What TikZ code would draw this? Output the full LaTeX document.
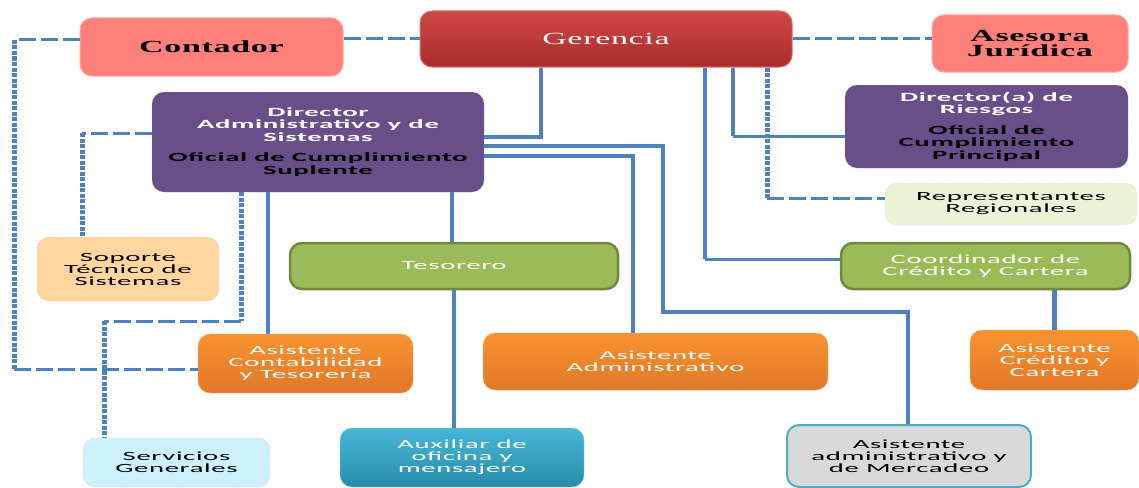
\documentclass[tikz,border=0pt]{standalone}
\usepackage{fontspec}
\setmainfont{Carlito}
\newfontfamily\boxfont[FakeStretch=2.3,LetterSpace=5]{Carlito}
\newfontfamily\headfont[FakeStretch=2.0,LetterSpace=4]{Liberation Serif}
\usetikzlibrary{positioning}

\definecolor{linea}{RGB}{79,129,189}
\definecolor{salmon}{RGB}{255,128,122}
\definecolor{rojo}{RGB}{200,52,50}
\definecolor{morado}{RGB}{104,79,138}
\definecolor{verde}{RGB}{155,187,89}
\definecolor{verdeosc}{RGB}{113,137,63}
\definecolor{naranja}{RGB}{248,146,48}
\definecolor{naranjaosc}{RGB}{226,120,40}
\definecolor{verdeclaro}{RGB}{235,244,214}
\definecolor{durazno}{RGB}{255,213,160}
\definecolor{celeste}{RGB}{204,241,250}
\definecolor{azul}{RGB}{51,175,211}
\definecolor{gris}{RGB}{217,217,217}
\definecolor{bordeazul}{RGB}{75,172,198}

\tikzset{
  caja/.style={rounded corners=12pt, align=center, inner sep=2pt,
    font=\boxfont\fontsize{12.5}{12}\selectfont},
  cajarosa/.style={caja, fill=salmon, draw=salmon!70!white, line width=1pt,
    font=\headfont\bfseries\fontsize{17}{15}\selectfont},
  cajaroja/.style={caja, top color=rojo!90!white, bottom color=rojo!85!black,
    draw=rojo!70!white, line width=1pt, text=white,
    font=\headfont\fontsize{17}{16}\selectfont},
  cajamorada/.style={caja, fill=morado, draw=morado!60!white, densely dotted,
    font=\boxfont\bfseries\fontsize{12.5}{12.5}\selectfont},
  cajaverde/.style={caja, fill=verde, draw=verdeosc, line width=2.5pt, text=white},
  cajanaranja/.style={caja, top color=naranja, bottom color=naranjaosc,
    draw=naranja!60!white, text=white},
  cajaclara/.style={caja, draw=black!25, densely dotted},
  mainline/.style={linea, line width=4.5pt},
  thinline/.style={linea, line width=3pt},
  dashline/.style={linea, line width=3pt, dash pattern=on 17pt off 5pt},
  dotline/.style={linea, line width=5pt, dash pattern=on 4pt off 1.5pt}
}

\begin{document}
\begin{tikzpicture}[x=1pt,y=-1pt]
\useasboundingbox (0,0) rectangle (1139,487);

% cajas
\node[cajarosa, minimum width=263pt, minimum height=58pt] (cont) at (211.5,47) {Contador};
\node[cajaroja, minimum width=372pt, minimum height=56pt] (ger) at (606,39) {Gerencia};
\node[cajarosa, minimum width=196pt, minimum height=57pt] (ases) at (1030,43.5) {Asesora\\Jurídica};

\node[cajamorada, minimum width=332pt, minimum height=100pt] (dadm) at (318,142)
  {\textcolor{white}{Director}\\\textcolor{white}{Administrativo y de}\\\textcolor{white}{Sistemas}\\[8pt]
   Oficial de Cumplimiento\\Suplente};
\node[cajamorada, minimum width=283pt, minimum height=83pt] (drie) at (986.5,126.5)
  {\textcolor{white}{Director(a) de}\\\textcolor{white}{Riesgos}\\[8pt]Oficial de\\Cumplimiento\\Principal};
\node[cajaclara, fill=verdeclaro, minimum width=252pt, minimum height=42pt] (rep) at (1011,204)
  {Representantes\\Regionales};

\node[cajaclara, fill=durazno, minimum width=182pt, minimum height=64pt] (sop) at (128,269)
  {Soporte\\Técnico de\\Sistemas};
\node[cajaverde, minimum width=328pt, minimum height=46pt] (tes) at (454,266) {Tesorero};
\node[cajaverde, minimum width=289pt, minimum height=46pt] (coord) at (985.5,266)
  {Coordinador de\\Crédito y Cartera};

\node[cajanaranja, minimum width=215pt, minimum height=59pt] (acont) at (305.5,363.5)
  {Asistente\\Contabilidad\\y Tesorería};
\node[cajanaranja, minimum width=345pt, minimum height=57pt] (aadm) at (655.5,361.5)
  {Asistente\\Administrativo};
\node[cajanaranja, minimum width=169pt, minimum height=60pt] (acred) at (1054.5,360)
  {Asistente\\Crédito y\\Cartera};

\node[cajaclara, fill=celeste, minimum width=187pt, minimum height=49pt] (serv) at (176.5,462.5)
  {Servicios\\Generales};
\node[caja, top color=azul!90!white, bottom color=azul!80!black, draw=azul!60!white,
  text=white, minimum width=244pt, minimum height=59pt] (aux) at (462,457.5)
  {Auxiliar de\\oficina y\\mensajero};
\node[caja, fill=gris, draw=bordeazul, line width=2pt, minimum width=244pt, minimum height=62pt]
  (mer) at (909,456) {Asistente\\administrativo y\\de Mercadeo};

% puntos de quiebre
\coordinate (k1) at (541,137);
\coordinate (m1) at (663,146);
\coordinate (m2) at (908,312);
\coordinate (a1) at (633,156);
\coordinate (q1) at (705,259);
\coordinate (q2) at (733,136);
\coordinate (r1) at (767,198);
\coordinate (d1) at (268,200);
\coordinate (d2) at (452,200);
\coordinate (c1) at (14,40);
\coordinate (c2) at (14,369);
\coordinate (s1) at (82,133);
\coordinate (v1) at (241,321);
\coordinate (v2) at (104,321);

% lineas de mando
\draw[mainline] (ger.south -| k1) |- (dadm.east |- k1);
\draw[mainline] (dadm.east |- m1) -- (m1) |- (m2) -- (m2 |- mer.north);
\draw[mainline] (dadm.east |- a1) -| (a1 |- aadm.north);
\draw[mainline] (ger.south -| q1) -- (q1);
\draw[thinline] (q1) -- (q1 -| coord.west);
\draw[mainline] (ger.south -| q2) -- (q2);
\draw[thinline] (q2) -- (q2 -| drie.west);
\draw[mainline] (dadm.south -| d1) -- (d1 |- acont.north);
\draw[mainline] (dadm.south -| d2) -- (d2 |- tes.north);
\draw[mainline] (tes.south) -- (tes.south |- aux.north);
\draw[mainline] (acred.north |- coord.south) -- (acred.north);

% lineas de apoyo
\draw[dashline] (cont.east |- ger.west) -- (ger.west);
\draw[dashline] (ger.east) -- (ger.east -| ases.west);
\draw[dashline] (c1 -| cont.west) -- (c1);
\draw[dotline] (c1) -- (c2);
\draw[dashline] (c2) -- (c2 -| acont.west);
\draw[dashline] (s1 -| dadm.west) -- (s1);
\draw[dotline] (s1) -- (s1 |- sop.north);
\draw[dotline] (v1 |- dadm.south) -- (v1);
\draw[dashline] (v1) -- (v2);
\draw[dotline] (v2) -- (v2 |- serv.north);
\draw[dotline] (ger.south -| r1) -- (r1);
\draw[dashline] (r1) -- (r1 -| rep.west);
\end{tikzpicture}
\end{document}
